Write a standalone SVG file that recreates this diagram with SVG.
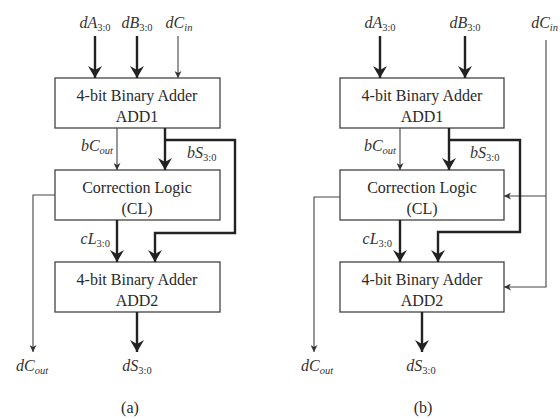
<svg xmlns="http://www.w3.org/2000/svg" width="560" height="418" viewBox="0 0 560 418" font-family="'Liberation Serif', 'Times New Roman', serif">
<defs>
<marker id="thick" markerUnits="userSpaceOnUse" markerWidth="12" markerHeight="14" refX="12" refY="7" orient="auto">
<path d="M0,0 L12,7 L0,14 L4,7 z" fill="#222"/>
</marker>
<marker id="thin" markerUnits="userSpaceOnUse" markerWidth="7" markerHeight="7" refX="7" refY="3.5" orient="auto">
<path d="M0,0 L7,3.5 L0,7 L2,3.5 z" fill="#333"/>
</marker>
</defs>
<style>
.box{fill:#fff;stroke:#444;stroke-width:1.3}
.t{font-size:16px;fill:#2a2a2a;text-anchor:middle}
.m{font-size:16px;font-style:italic;fill:#333}
.s{font-size:10.5px;font-style:normal}
.si{font-size:10.5px;font-style:italic}
.th{fill:none;stroke:#222;stroke-width:2.4}
.tn{fill:none;stroke:#444;stroke-width:1.1}
.mid{text-anchor:middle}
.end{text-anchor:end}
</style>
<rect width="560" height="418" fill="#fff"/>

<!-- Panel (a) -->
<g id="a-add1"><rect class="box" x="55" y="78" width="165" height="50"/><text class="t" x="137" y="101">4-bit Binary Adder</text><text class="t" x="137" y="122">ADD1</text></g>
<g id="a-cl"><rect class="box" x="55" y="170" width="165" height="50"/><text class="t" x="137" y="193">Correction Logic</text><text class="t" x="137" y="214">(CL)</text></g>
<g id="a-add2"><rect class="box" x="55" y="262" width="165" height="50"/><text class="t" x="137" y="285">4-bit Binary Adder</text><text class="t" x="137" y="306">ADD2</text></g>
<g id="a-connectors">
<path class="th" d="M95,36 V78" marker-end="url(#thick)"/>
<path class="th" d="M137,36 V78" marker-end="url(#thick)"/>
<path class="tn" d="M178,36 V78" marker-end="url(#thin)"/>
<path class="tn" d="M117,128 V170" marker-end="url(#thin)"/>
<path class="th" d="M165,128 V170" marker-end="url(#thick)"/>
<path class="th" d="M165,140 H235 V233 H155 V262" marker-end="url(#thick)"/>
<path class="th" d="M117,220 V262" marker-end="url(#thick)"/>
<path class="tn" d="M55,195 H33 V352" marker-end="url(#thin)"/>
<path class="th" d="M137,312 V352" marker-end="url(#thick)"/>
</g>
<g id="a-labels">
<text class="m mid" x="95" y="28">dA<tspan class="s" dy="3">3:0</tspan></text>
<text class="m mid" x="137" y="28">dB<tspan class="s" dy="3">3:0</tspan></text>
<text class="m mid" x="179" y="28">dC<tspan class="si" dy="3">in</tspan></text>
<text class="m end" x="113" y="151">bC<tspan class="si" dy="3">out</tspan></text>
<text class="m" x="187" y="158">bS<tspan class="s" dy="3">3:0</tspan></text>
<text class="m end" x="110" y="244">cL<tspan class="s" dy="3">3:0</tspan></text>
<text class="m mid" x="32" y="371">dC<tspan class="si" dy="3">out</tspan></text>
<text class="m mid" x="137" y="371">dS<tspan class="s" dy="3">3:0</tspan></text>
<text class="t" x="130" y="413">(a)</text>
</g>

<!-- Panel (b) -->
<g id="b-add1"><rect class="box" x="340" y="78" width="164" height="50"/><text class="t" x="422" y="101">4-bit Binary Adder</text><text class="t" x="422" y="122">ADD1</text></g>
<g id="b-cl"><rect class="box" x="340" y="170" width="164" height="50"/><text class="t" x="422" y="193">Correction Logic</text><text class="t" x="422" y="214">(CL)</text></g>
<g id="b-add2"><rect class="box" x="340" y="262" width="164" height="50"/><text class="t" x="422" y="285">4-bit Binary Adder</text><text class="t" x="422" y="306">ADD2</text></g>
<g id="b-connectors">
<path class="th" d="M380,36 V78" marker-end="url(#thick)"/>
<path class="th" d="M465,36 V78" marker-end="url(#thick)"/>
<path class="tn" d="M546,40 V287 H504" marker-end="url(#thin)"/>
<path class="tn" d="M546,196 H504" marker-end="url(#thin)"/>
<path class="tn" d="M400,128 V170" marker-end="url(#thin)"/>
<path class="th" d="M449,128 V170" marker-end="url(#thick)"/>
<path class="th" d="M449,140 H520 V232 H438 V262" marker-end="url(#thick)"/>
<path class="th" d="M400,220 V262" marker-end="url(#thick)"/>
<path class="tn" d="M340,197 H314 V352" marker-end="url(#thin)"/>
<path class="th" d="M422,312 V352" marker-end="url(#thick)"/>
</g>
<g id="b-labels">
<text class="m mid" x="380" y="28">dA<tspan class="s" dy="3">3:0</tspan></text>
<text class="m mid" x="465" y="28">dB<tspan class="s" dy="3">3:0</tspan></text>
<text class="m end" x="558" y="28">dC<tspan class="si" dy="3">in</tspan></text>
<text class="m end" x="396" y="151">bC<tspan class="si" dy="3">out</tspan></text>
<text class="m" x="470" y="158">bS<tspan class="s" dy="3">3:0</tspan></text>
<text class="m end" x="392" y="244">cL<tspan class="s" dy="3">3:0</tspan></text>
<text class="m mid" x="317" y="371">dC<tspan class="si" dy="3">out</tspan></text>
<text class="m mid" x="421" y="371">dS<tspan class="s" dy="3">3:0</tspan></text>
<text class="t" x="423" y="413">(b)</text>
</g>
</svg>
